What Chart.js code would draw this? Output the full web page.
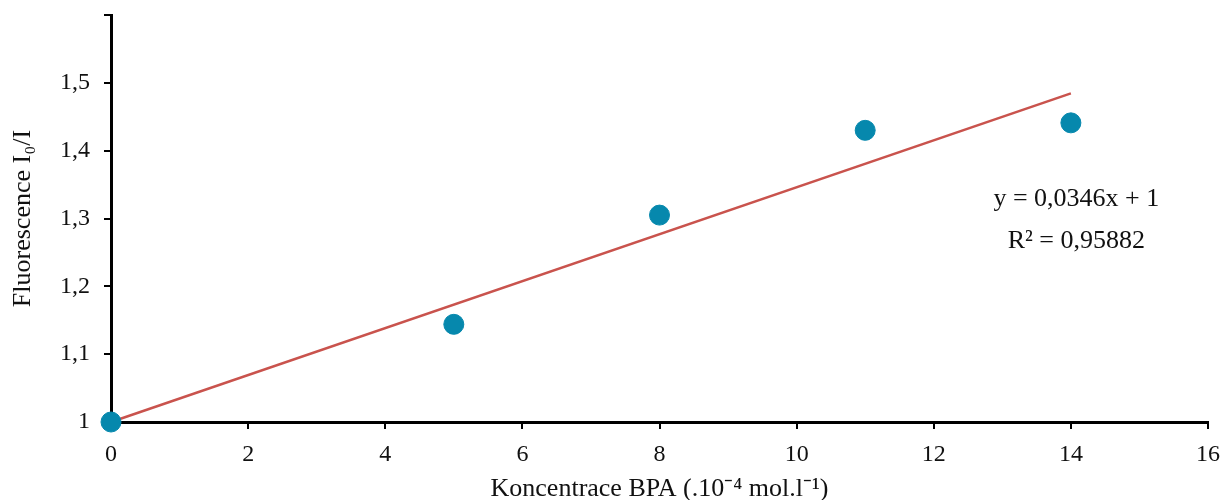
<!DOCTYPE html>
<html><head><meta charset="utf-8">
<script src="https://cdn.jsdelivr.net/npm/chart.js@4"></script>
<style>html,body{margin:0;padding:0;background:#fff}#wrap{width:1221px;height:500px}</style>
</head><body><div id="wrap"><canvas id="c"></canvas></div>
<script>
const concentrations = [0, 5, 8, 11, 14];
const fluorescence = [1.0, 1.144, 1.305, 1.430, 1.441];
const trendSlope = 0.0346;
const trendIntercept = 1;
const trendRange = [0, 14];
const xTicks = [0, 2, 4, 6, 8, 10, 12, 14, 16];
const yTicks = [1, 1.1, 1.2, 1.3, 1.4, 1.5, 1.6];
const equationText = "y = 0,0346x + 1";
const r2Text = "R² = 0,95882";
const xTitle = "Koncentrace BPA (.10⁻⁴ mol.l⁻¹)";
const yTitle = "Fluorescence I₀/I";

const FONT = "'Liberation Serif', 'Times New Roman', serif";
const points = concentrations.map((x, i) => ({x, y: fluorescence[i]}));
const trend = trendRange.map(x => ({x, y: trendSlope * x + trendIntercept}));

const annot = {
  id: 'annot',
  afterDatasetsDraw(chart) {
    const {ctx, scales} = chart;
    ctx.save();
    ctx.fillStyle = '#111';
    ctx.font = "26px " + FONT;
    ctx.textAlign = 'center';
    ctx.textBaseline = 'middle';
    ctx.fillText(equationText, scales.x.getPixelForValue(14.08), scales.y.getPixelForValue(1.328));
    ctx.fillText(r2Text, scales.x.getPixelForValue(14.08), scales.y.getPixelForValue(1.266));
    ctx.restore();
  }
};

new Chart(document.getElementById('c'), {
  type: 'scatter',
  data: {
    datasets: [
      {data: trend, showLine: true, borderColor: '#c9534d', borderWidth: 2.5, pointRadius: 0, order: 2, clip: false},
      {data: points, backgroundColor: '#0688ad', borderColor: '#0688ad', pointRadius: 10, pointHoverRadius: 10, order: 1, clip: false}
    ]
  },
  options: {
    responsive: true, maintainAspectRatio: false, animation: false,
    layout: {padding: {top: 15, right: 13, left: 0, bottom: 0}},
    plugins: {legend: {display: false}, tooltip: {enabled: false}},
    scales: {
      x: {
        type: 'linear', min: 0, max: 16,
        afterBuildTicks(s) { s.ticks = xTicks.map(v => ({value: v})); },
        afterFit(s) { s.height = 78; s.paddingLeft = 0; s.paddingRight = 0; },
        border: {color: '#000', width: 3},
        grid: {drawOnChartArea: false, drawTicks: true, tickLength: 7, color: '#000', lineWidth: 2},
        ticks: {color: '#111', font: {family: FONT, size: 24}, padding: 11, maxRotation: 0,
                callback: v => String(v)},
        title: {display: true, text: xTitle, color: '#111', font: {family: FONT, size: 26, lineHeight: 0.8}, padding: {top: 0, bottom: 0}}
      },
      y: {
        type: 'linear', min: 1, max: 1.6,
        afterBuildTicks(s) { s.ticks = yTicks.map(v => ({value: v})); },
        afterFit(s) { s.width = 111; s.paddingTop = 0; s.paddingBottom = 0; },
        border: {color: '#000', width: 3},
        grid: {drawOnChartArea: false, drawTicks: true, tickLength: 7, color: '#000', lineWidth: 2},
        ticks: {color: '#111', font: {family: FONT, size: 24}, padding: 14,
                callback: v => Math.abs(v - 1.6) < 1e-9 ? '' : (Math.round(v * 10) / 10).toString().replace('.', ',')},
        title: {display: true, text: yTitle, color: '#111', font: {family: FONT, size: 26}, padding: {top: 8, bottom: 4}}
      }
    }
  },
  plugins: [annot]
});
</script></body></html>
